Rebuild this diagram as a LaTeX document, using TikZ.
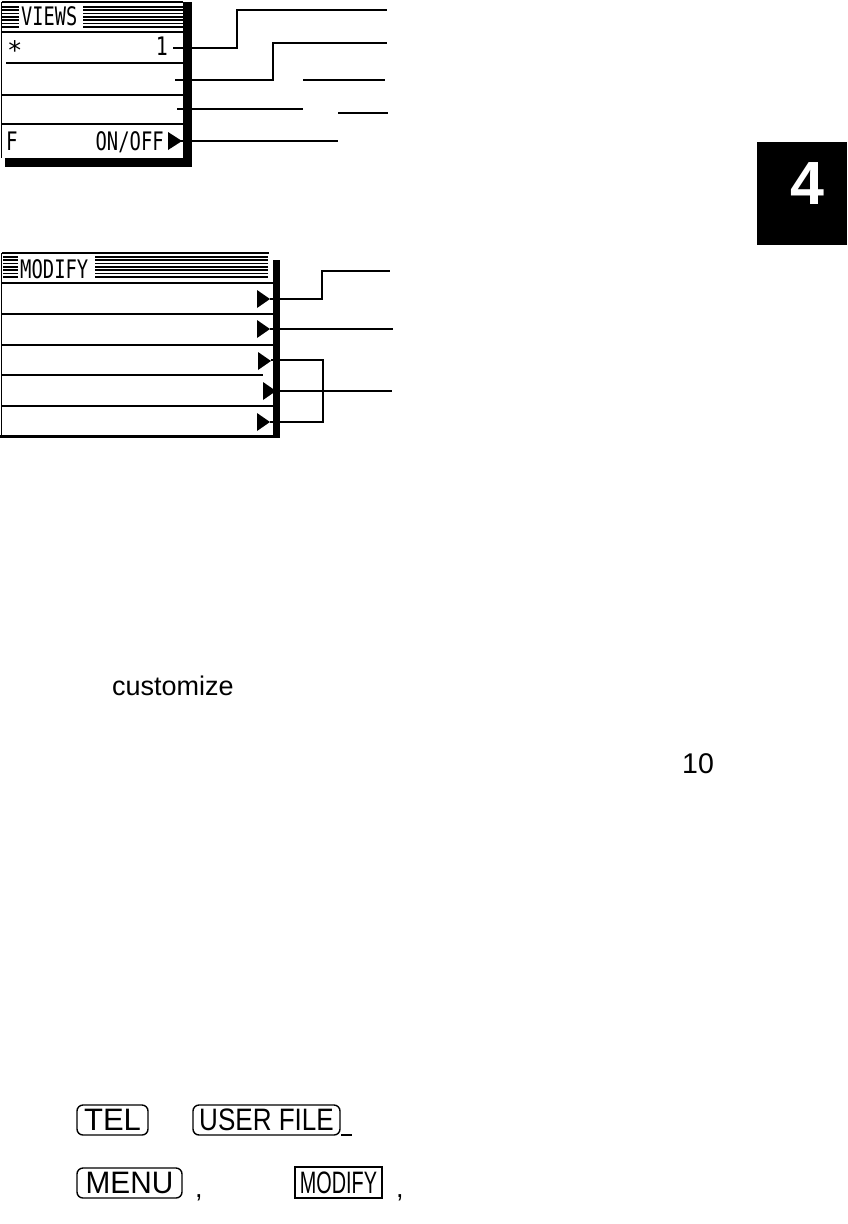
\documentclass[tikz,border=0pt]{standalone}
\usepackage{graphicx}
\usepackage{fontspec}
\setmainfont{Liberation Sans}
\newfontfamily\menufont{DejaVu Sans Mono}
\begin{document}
\begin{tikzpicture}[x=1pt,y=-1pt,
  frame/.style={line width=1.6pt},
  sep/.style={line width=2.2pt},
  thinsep/.style={line width=1.5pt},
  stripe/.style={line width=1.7pt},
  conn/.style={line width=1.7pt},
  thickconn/.style={line width=2.6pt},
  mtext/.style={inner sep=0pt, font=\menufont\fontsize{25.5}{26}\selectfont},
  body/.style={inner sep=0pt, font=\fontsize{27}{30}\selectfont},
  keyr/.style={draw, line width=1.4pt, rounded corners=6pt, inner sep=0pt, font=\fontsize{31}{32}\selectfont},
  keys/.style={draw, line width=1.4pt, inner sep=0pt, font=\fontsize{31}{32}\selectfont},
]
\useasboundingbox (0,0) rectangle (847,1224);
\fill[white] (0,0) rectangle (847,1224);

% ================= VIEWS menu =================
% connectors (under the shadow)
\coordinate (v1s) at (173,48);
\coordinate (v1k) at (237,10);
\coordinate (v1e) at (387,10);
\draw[conn] (v1s) -| (v1k) -- (v1e);
\coordinate (v2s) at (175,80);
\coordinate (v2k) at (273,43);
\coordinate (v2e) at (387,43);
\draw[conn] (v2s) -| (v2k) -- (v2e);
\coordinate (v3s) at (303,80);
\coordinate (v3e) at (385,80);
\draw[thickconn] (v3s) -- (v3e);
\coordinate (v4s) at (177,109);
\coordinate (v4e) at (303,109);
\draw[conn] (v4s) -- (v4e);
\coordinate (v4bs) at (338,113);
\coordinate (v4be) at (388,113);
\draw[conn] (v4bs) -- (v4be);
\coordinate (v5s) at (181,141);
\coordinate (v5e) at (338,141);
\draw[conn] (v5s) -- (v5e);

% frame and shadow
\fill (183,2) rectangle (192,167);
\fill (5,158) rectangle (192,167);
\draw[frame] (1.5,2) -- (183,2);
\draw[frame] (1.5,2) -- (1.5,158);
\draw[sep] (1,32) -- (183,32);
\foreach \yy in {7,10.3,13.6,16.9,20.2,23.5,26.8}{
  \draw[stripe] (2,\yy) -- (19,\yy);
  \draw[stripe] (83,\yy) -- (183,\yy);
}
\node[mtext, anchor=base west] (vtitle) at (21,25) {\scalebox{0.73}[1]{VIEWS}};
\draw[thinsep] (6,63) -- (183,63);
\draw[sep] (1,95) -- (183,95);
\draw[thinsep] (1,124) -- (183,124);
\node[mtext, anchor=base west] (vstar) at (7,59) {*};
\node[mtext, anchor=base east] (vone) at (168,55) {\scalebox{0.78}[1]{1}};
\node[mtext, anchor=base west] (vF) at (6,150) {\scalebox{0.75}[1]{F}};
\node[mtext, anchor=base east] (vonoff) at (164,150) {\scalebox{0.74}[1]{ON/OFF}};
\fill (168,132) -- (182,141) -- (168,150) -- cycle;

% ================= MODIFY menu =================
\coordinate (m1s) at (270,299);
\coordinate (m1k) at (322,271);
\coordinate (m1e) at (390,271);
\draw[conn] (m1s) -| (m1k) -- (m1e);
\coordinate (m2s) at (270,329);
\coordinate (m2e) at (393,329);
\draw[conn] (m2s) -- (m2e);
\coordinate (m3s) at (271,360);
\coordinate (m3k) at (323,422);
\coordinate (m5s) at (270,422);
\draw[conn] (m3s) -| (m3k) -- (m5s);
\coordinate (m4s) at (276,391);
\coordinate (m4e) at (392,391);
\draw[conn] (m4s) -- (m4e);

\fill (273,260) rectangle (280,438);
\draw[line width=3pt] (0,436.5) -- (280,436.5);
\draw[frame] (1.5,253) -- (269,253);
\draw[frame] (1.5,253) -- (1.5,437);
\draw[thinsep] (1,283) -- (273,283);
\foreach \yy in {257,260.3,263.6,266.9,270.2,273.5,276.8}{
  \draw[stripe] (3,\yy) -- (18,\yy);
  \draw[stripe] (95,\yy) -- (268,\yy);
}
\node[mtext, anchor=base west] (mtitle) at (20,278) {\scalebox{0.74}[1]{MODIFY}};
\draw[sep] (1,314) -- (273,314);
\draw[thinsep] (1,345) -- (273,345);
\draw[thinsep] (1,375) -- (263,375);
\draw[thinsep] (1,406) -- (273,406);
\fill (257,290) -- (270,299) -- (257,308) -- cycle;
\fill (257,320) -- (270,329) -- (257,338) -- cycle;
\fill (258,352) -- (271,361) -- (258,370) -- cycle;
\fill (263,382) -- (276,391) -- (263,400) -- cycle;
\fill (257,413) -- (270,422) -- (257,431) -- cycle;

% ================= chapter tab =================
\fill (757,142) rectangle (847,245);
\node[inner sep=0pt, text=white, font=\fontsize{61}{61}\selectfont\bfseries] (four) at (807.5,183.5) {4};

% ================= body text =================
\node[body, anchor=base west] (cust) at (112,695) {customize};
\node[body, anchor=base west, font=\fontsize{28.5}{30}\selectfont] (ten) at (682,773) {10};

% ================= keys =================
\node[keyr, minimum width=71pt, minimum height=30pt] (tel) at (112.5,1120) {TEL};
\node[keyr, minimum width=147pt, minimum height=30pt] (userfile) at (266.5,1120) {\scalebox{0.84}[1]{USER FILE}};
\coordinate (us1) at (341,1135);
\coordinate (us2) at (352,1135);
\draw[line width=1.3pt] (us1) -- (us2);
\node[keyr, minimum width=105pt, minimum height=30pt] (menu) at (129.5,1183) {\scalebox{0.96}[1]{MENU}};
\node[body, anchor=base west] (comma1) at (195,1197) {,};
\node[keys, minimum width=87pt, minimum height=31pt] (modify) at (338.5,1182.5) {\scalebox{0.64}[1]{MODIFY}};
\node[body, anchor=base west] (comma2) at (396,1197) {,};
\end{tikzpicture}
\end{document}
